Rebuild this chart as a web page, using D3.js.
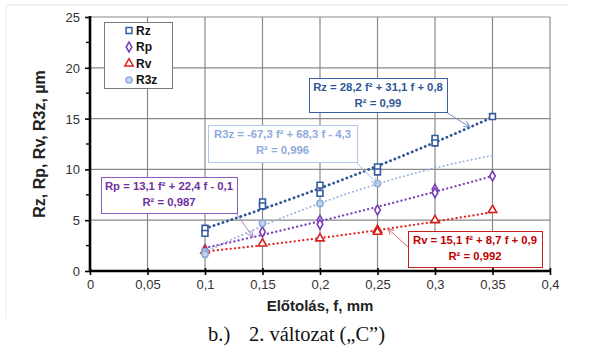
<!DOCTYPE html>
<html>
<head>
<meta charset="utf-8">
<script src="https://cdn.jsdelivr.net/npm/d3@7"></script>
<style>
  html, body { margin: 0; padding: 0; background: #fff; }
  svg { display: block; }
</style>
</head>
<body>
<svg id="chart" width="590" height="354"></svg>
<script>
// Measured points: feed rate f (mm) and roughness (µm) for each parameter
const rzFeed    = [0.1, 0.1, 0.15, 0.15, 0.2, 0.2, 0.25, 0.25, 0.3, 0.3, 0.35];
const rzValues  = [4.2, 3.7, 6.8, 6.4, 8.45, 7.65, 10.25, 9.75, 13.05, 12.6, 15.2];
const rpFeed    = [0.1, 0.15, 0.2, 0.2, 0.25, 0.3, 0.3, 0.35];
const rpValues  = [2.1, 3.85, 5.0, 4.6, 6.0, 8.05, 7.7, 9.35];
const rvFeed    = [0.1, 0.15, 0.2, 0.25, 0.25, 0.3, 0.35];
const rvValues  = [2.0, 2.7, 3.2, 4.05, 3.85, 5.0, 6.0];
const r3zFeed   = [0.1, 0.1, 0.15, 0.2, 0.25];
const r3zValues = [1.9, 1.65, 4.7, 6.65, 8.6];

// Second-order trend lines a·f² + b·f + c and their R²
const seriesNames = ["Rz", "Rp", "Rv", "R3z"];
const rzFit  = [28.2, 31.1, 0.8];
const rpFit  = [13.1, 22.4, -0.1];
const rvFit  = [15.1, 8.7, 0.9];
const r3zFit = [-67.3, 68.3, -4.3];
const rSquared = [0.99, 0.987, 0.992, 0.996];
const trendFeedRange = [0.1, 0.35];

// Axis ticks and titles
const xTicks = [0, 0.05, 0.1, 0.15, 0.2, 0.25, 0.3, 0.35, 0.4];
const yTicks = [0, 5, 10, 15, 20, 25];
const yMinorTicks = [2.5, 7.5, 12.5, 17.5, 22.5];
const xTitle = "Előtolás, f, mm";
const yTitle = "Rz, Rp, Rv, R3z, µm";
const captionLabel = "b.)";
const captionText = "2. változat („C”)";

const svg = d3.select("#chart");
const huLocale = d3.formatLocale({ decimal: ",", thousands: " ", grouping: [3], currency: ["", ""], minus: "-" });
const fmtTick = huLocale.format("~g");
const fmtCoef = huLocale.format(".1f");
const fmtR2 = huLocale.format("~g");

const x = d3.scaleLinear().domain([0, 0.4]).range([90, 550]);
const y = d3.scaleLinear().domain([0, 25]).range([271, 17]);

const FONT = "'Liberation Sans', Arial, sans-serif";

// faint page frame
svg.append("line").attr("x1", 6).attr("x2", 568).attr("y1", 5).attr("y2", 5)
  .attr("stroke", "#e6e6e6").attr("stroke-width", 1);
svg.append("line").attr("x1", 6).attr("x2", 6).attr("y1", 5).attr("y2", 318)
  .attr("stroke", "#ececec").attr("stroke-width", 1);

// gridlines
const grid = svg.append("g").attr("stroke", "#8a8a8a").attr("stroke-width", 1.2);
grid.selectAll("line.v").data(xTicks.filter(d => d > 0)).join("line")
  .attr("x1", d => x(d)).attr("x2", d => x(d)).attr("y1", y(25)).attr("y2", y(0));
grid.selectAll("line.h").data(yTicks.filter(d => d > 0)).join("line")
  .attr("x1", x(0)).attr("x2", x(0.4)).attr("y1", d => y(d)).attr("y2", d => y(d));

// axes
const xAxis = d3.axisBottom(x).tickValues(xTicks).tickFormat(fmtTick).tickSize(4).tickPadding(5);
const yAxis = d3.axisLeft(y).tickValues(yTicks).tickFormat(fmtTick).tickSize(5).tickPadding(5);

const gx = svg.append("g").attr("transform", `translate(0,${y(0)})`).call(xAxis);
const gy = svg.append("g").attr("transform", `translate(${x(0)},0)`).call(yAxis);
[gx, gy].forEach(g => {
  g.select(".domain").remove();
  g.selectAll(".tick line").attr("stroke", "#000").attr("stroke-width", 1.6);
  g.selectAll(".tick text").attr("font-family", FONT).attr("font-size", 13).attr("fill", "#333");
});
gx.selectAll(".tick line").attr("y1", -3);
gy.selectAll(".tick line").attr("x1", 0);
gy.selectAll(".tick text").attr("dy", "0.35em");

// minor y ticks
svg.append("g").selectAll("line").data(yMinorTicks).join("line")
  .attr("x1", x(0) - 4).attr("x2", x(0)).attr("y1", d => y(d)).attr("y2", d => y(d))
  .attr("stroke", "#000").attr("stroke-width", 1.4);

// axis lines
svg.append("line").attr("x1", x(0)).attr("x2", x(0)).attr("y1", y(25) - 1).attr("y2", y(0) + 1)
  .attr("stroke", "#000").attr("stroke-width", 2.6);
svg.append("line").attr("x1", x(0) - 1).attr("x2", x(0.4) + 1).attr("y1", y(0)).attr("y2", y(0))
  .attr("stroke", "#000").attr("stroke-width", 2.6);

// axis titles
svg.append("text").attr("x", (x(0) + x(0.4)) / 2).attr("y", 311)
  .attr("text-anchor", "middle").attr("font-family", FONT).attr("font-weight", "bold")
  .attr("font-size", 15).attr("fill", "#222").text(xTitle);
svg.append("text").attr("transform", `translate(45,${(y(0) + y(25)) / 2}) rotate(-90)`)
  .attr("text-anchor", "middle").attr("font-family", FONT).attr("font-weight", "bold")
  .attr("font-size", 16).attr("fill", "#222").text(yTitle);

// caption
const cap = svg.append("text").attr("y", 341).attr("font-family", "'Liberation Serif', 'Times New Roman', serif")
  .attr("font-size", 20.5).attr("fill", "#111");
cap.append("tspan").attr("x", 208).text(captionLabel);
cap.append("tspan").attr("x", 249).text(captionText);

// series styles
const series = [
  { name: "Rz",  feed: rzFeed,  values: rzValues,  fit: rzFit,  r2: rSquared[0],
    line: "#2f5597", lineWidth: 2.8, dash: "0.1 4.6", mark: "#365c9f", fill: "#fff", symbol: d3.symbolSquare, size: 34,
    text: "#2f5597", box: "#3b62a6", leader: "#6f8fc6" },
  { name: "Rp",  feed: rpFeed,  values: rpValues,  fit: rpFit,  r2: rSquared[1],
    line: "#7a3cb6", lineWidth: 2.2, dash: "0.1 4.2", mark: "#7a3cb6", fill: "#fff", symbol: d3.symbolDiamond, size: 28,
    text: "#7030a0", box: "#8a5cc0", leader: "#a488cc" },
  { name: "Rv",  feed: rvFeed,  values: rvValues,  fit: rvFit,  r2: rSquared[2],
    line: "#e02424", lineWidth: 2.2, dash: "0.1 4.2", mark: "#d81e1e", fill: "#fff", symbol: d3.symbolTriangle, size: 30,
    text: "#c00000", box: "#c42020", leader: "#d26a6a" },
  { name: "R3z", feed: r3zFeed, values: r3zValues, fit: r3zFit, r2: rSquared[3],
    line: "#9db6e0", lineWidth: 2.0, dash: "0.1 4.0", mark: "#8eaadb", fill: "#c9d8f0", symbol: d3.symbolCircle, size: 30,
    text: "#8eaadb", box: "#b3c7e8", leader: "#a9bfe4" }
];

const quad = (c, f) => c[0] * f * f + c[1] * f + c[2];

// trend lines
const sampleFeed = d3.range(trendFeedRange[0], trendFeedRange[1] + 1e-9, 0.0025);
const lineGen = d3.line().x(d => x(d[0])).y(d => y(d[1]));
const trends = svg.append("g").attr("fill", "none").attr("stroke-linecap", "round");
series.forEach(s => {
  trends.append("path")
    .attr("d", lineGen(sampleFeed.map(f => [f, quad(s.fit, f)])))
    .attr("stroke", s.line).attr("stroke-width", s.lineWidth).attr("stroke-dasharray", s.dash);
});

// markers
series.forEach(s => {
  svg.append("g").selectAll("path").data(s.feed.map((f, i) => [f, s.values[i]])).join("path")
    .attr("transform", d => `translate(${x(d[0])},${y(d[1])})`)
    .attr("d", d3.symbol().type(s.symbol).size(s.size))
    .attr("fill", s.fill).attr("stroke", s.mark).attr("stroke-width", 1.6);
});

// legend
const legend = svg.append("g");
legend.append("rect").attr("x", 104.5).attr("y", 22.5).attr("width", 68).attr("height", 66)
  .attr("fill", "#fff").attr("stroke", "#7a7a7a").attr("stroke-width", 1);
series.forEach((s, i) => {
  const cy = 30.5 + i * 16.5;
  legend.append("path").attr("transform", `translate(129,${cy})`)
    .attr("d", d3.symbol().type(s.symbol).size(s.size))
    .attr("fill", s.fill).attr("stroke", s.mark).attr("stroke-width", 1.5);
  legend.append("text").attr("x", 136).attr("y", cy).attr("dy", "0.36em")
    .attr("font-family", FONT).attr("font-weight", "bold").attr("font-size", 12)
    .attr("fill", "#111").text(s.name);
});

// trend equation callouts
const defs = svg.append("defs");
series.forEach((s, i) => {
  defs.append("marker").attr("id", "arrow" + i).attr("viewBox", "0 0 8 8")
    .attr("refX", 7).attr("refY", 4).attr("markerWidth", 8).attr("markerHeight", 8)
    .attr("markerUnits", "userSpaceOnUse").attr("orient", "auto")
    .append("path").attr("d", "M1,1 L7,4 L1,7").attr("fill", "none").attr("stroke", s.leader).attr("stroke-width", 1);
});

const callouts = [
  { s: 0, x: 309, y: 78,  w: 138, h: 34, from: [446, 112], feed: 0.3304 },
  { s: 1, x: 101, y: 177, w: 136, h: 36, from: [236, 213], feed: 0.1417 },
  { s: 2, x: 408, y: 231, w: 134, h: 36, from: [408, 247], feed: 0.259 },
  { s: 3, x: 208, y: 125, w: 149, h: 37, from: [355, 161], feed: 0.25 }
];

function equation(s) {
  const [a, b, c] = s.fit;
  const sign = c < 0 ? "-" : "+";
  return `${s.name} = ${fmtCoef(a)} f² + ${fmtCoef(b)} f ${sign} ${fmtCoef(Math.abs(c))}`;
}

callouts.forEach(co => {
  const s = series[co.s];
  svg.append("line").attr("x1", co.from[0]).attr("y1", co.from[1])
    .attr("x2", x(co.feed)).attr("y2", y(quad(s.fit, co.feed)))
    .attr("stroke", s.leader).attr("stroke-width", 1).attr("marker-end", `url(#arrow${co.s})`);
  svg.append("rect").attr("x", co.x + 0.5).attr("y", co.y + 0.5).attr("width", co.w).attr("height", co.h)
    .attr("fill", "#fff").attr("stroke", s.box).attr("stroke-width", 1);
  const t = svg.append("text").attr("text-anchor", "middle").attr("font-family", FONT)
    .attr("font-weight", "bold").attr("font-size", 11.3).attr("fill", s.text);
  t.append("tspan").attr("x", co.x + co.w / 2).attr("y", co.y + 13).text(equation(s));
  t.append("tspan").attr("x", co.x + co.w / 2).attr("y", co.y + 29).text(`R² = ${fmtR2(s.r2)}`);
});
</script>
</body>
</html>
